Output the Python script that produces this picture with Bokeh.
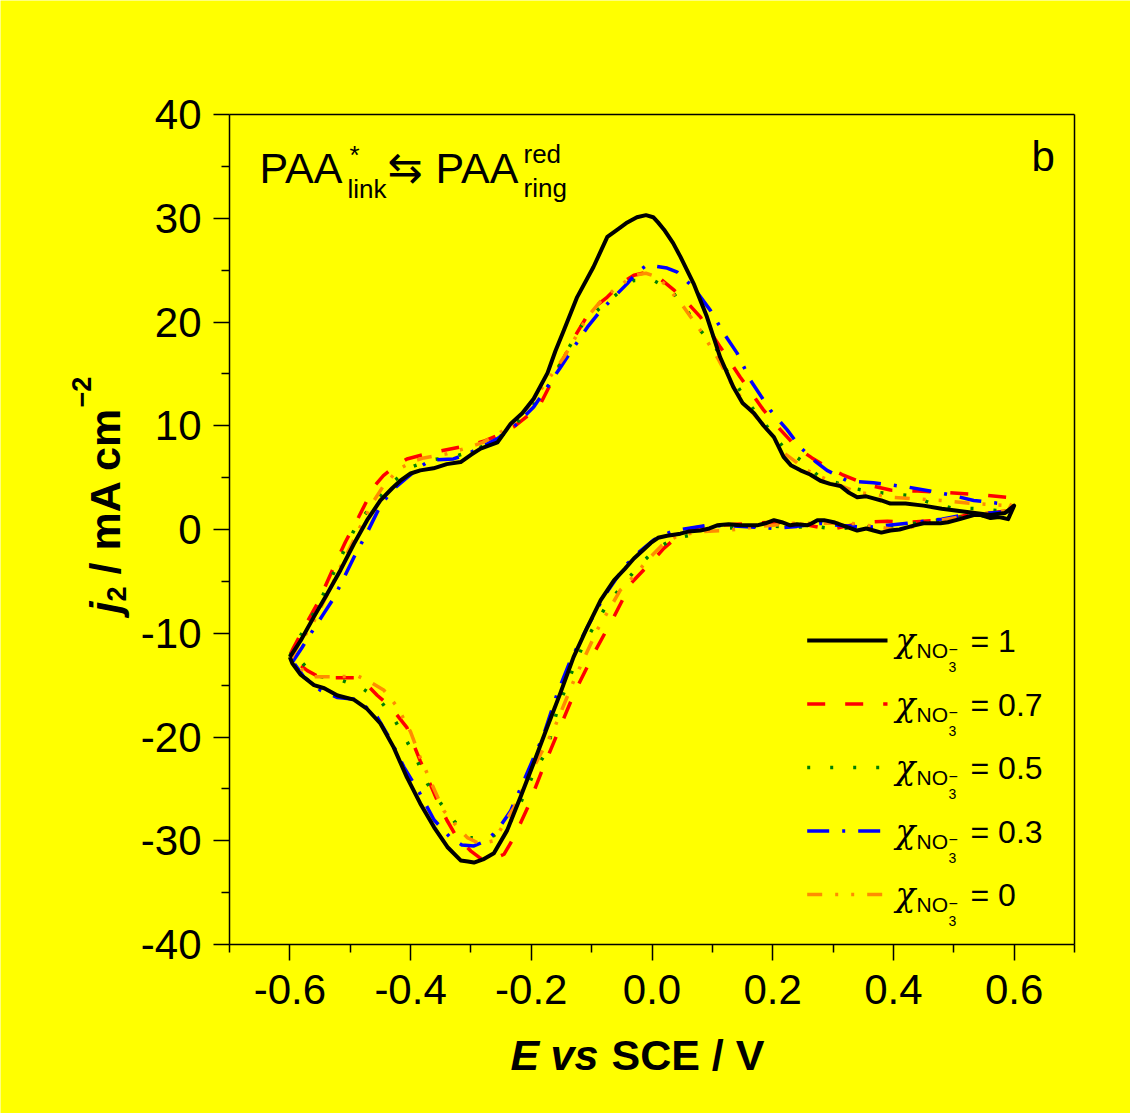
import math
from bokeh.plotting import figure
from bokeh.models import Range1d, FixedTicker, PrintfTickFormatter, Label, LinearAxis
from bokeh.embed import file_html
from bokeh.resources import INLINE

# ---------------- data (E vs SCE / V, j2 / mA cm^-2) ----------------
x_ticks = [-0.6, -0.4, -0.2, 0.0, 0.2, 0.4, 0.6]
x_minor = [-0.7, -0.5, -0.3, -0.1, 0.1, 0.3, 0.5, 0.7]
y_ticks = [-40, -30, -20, -10, 0, 10, 20, 30, 40]
y_minor = [-35, -25, -15, -5, 5, 15, 25, 35]

legend_values = ["1", "0.7", "0.5", "0.3", "0"]

E_chi1 = [-0.600, -0.582, -0.560, -0.538, -0.516, -0.494, -0.472, -0.450, -0.430, -0.417, -0.400, -0.384,
          -0.362, -0.340, -0.317, -0.300, -0.284, -0.256, -0.234, -0.215, -0.196, -0.173, -0.160, -0.146,
          -0.124, -0.097, -0.074, -0.055, -0.041, -0.025, -0.010, 0.002, 0.010, 0.020, 0.035, 0.047, 0.069,
          0.091, 0.113, 0.135, 0.150, 0.169, 0.185, 0.202, 0.218, 0.230, 0.246, 0.262, 0.279, 0.295, 0.312,
          0.325, 0.340, 0.355, 0.367, 0.380, 0.395, 0.420, 0.450, 0.480, 0.506, 0.535, 0.561, 0.585, 0.600,
          0.590, 0.575, 0.561, 0.545, 0.533, 0.510, 0.490, 0.478, 0.450, 0.435, 0.423, 0.410, 0.395, 0.380,
          0.367, 0.355, 0.340, 0.320, 0.301, 0.285, 0.274, 0.265, 0.257, 0.240, 0.229, 0.215, 0.202, 0.188,
          0.174, 0.160, 0.146, 0.127, 0.108, 0.095, 0.080, 0.060, 0.047, 0.025, 0.010, -0.002, -0.015, -0.030,
          -0.045, -0.063, -0.085, -0.107, -0.130, -0.152, -0.174, -0.196, -0.218, -0.240, -0.262, -0.280,
          -0.295, -0.305, -0.317, -0.339, -0.361, -0.384, -0.406, -0.428, -0.450, -0.472, -0.494, -0.521,
          -0.543, -0.560, -0.582, -0.596, -0.600]
J_chi1 = [-12.3, -10.7, -8.4, -6.2, -3.9, -1.4, 0.9, 2.8, 4.0, 4.7, 5.4, 5.7,
          5.9, 6.3, 6.5, 7.2, 7.8, 8.4, 10.2, 11.2, 12.6, 15.1, 17.2, 19.2,
          22.4, 25.3, 28.2, 29.0, 29.6, 30.1, 30.3, 30.1, 29.6, 28.9, 27.6, 26.3, 23.7,
          20.5, 16.6, 13.7, 12.2, 11.2, 10.0, 8.9, 7.0, 6.2, 5.7, 5.3, 4.7, 4.4, 4.2,
          3.6, 3.1, 3.2, 3.0, 2.8, 2.5, 2.5, 2.3, 2.0, 1.8, 1.6, 1.4, 1.6, 2.3,
          1.0, 1.2, 1.1, 1.4, 1.4, 1.0, 0.7, 0.6, 0.6, 0.4, 0.2, 0.0, -0.1, -0.3,
          -0.1, 0.1, -0.1, 0.3, 0.7, 0.9, 0.9, 0.6, 0.4, 0.5, 0.4, 0.7, 0.9, 0.6,
          0.4, 0.4, 0.4, 0.5, 0.4, 0.1, -0.1, -0.2, -0.4, -0.6, -0.8, -1.3, -2.0, -2.8,
          -3.8, -4.9, -6.8, -9.4, -12.3, -15.8, -19.1, -22.5, -25.8, -29.0, -31.2, -31.8,
          -32.1, -32.0, -31.9, -30.6, -28.7, -26.4, -23.9, -21.0, -18.7, -17.3, -16.4, -16.0,
          -15.3, -15.0, -14.0, -12.9, -12.3]

E_chi07 = [-0.599, -0.594, -0.575, -0.554, -0.527, -0.508, -0.486, -0.461, -0.445, -0.428, -0.406, -0.380,
           -0.356, -0.330, -0.306, -0.279, -0.255, -0.229, -0.205, -0.184, -0.157, -0.129, -0.102, -0.074,
           -0.052, -0.030, -0.008, 0.015, 0.036, 0.058, 0.080, 0.113, 0.146, 0.185, 0.213, 0.240, 0.265,
           0.290, 0.315, 0.340, 0.365, 0.395, 0.440, 0.478, 0.533, 0.570, 0.589, 0.597,
           0.590, 0.560, 0.528, 0.500, 0.478, 0.423, 0.390, 0.356, 0.320, 0.295, 0.260, 0.229, 0.200, 0.169,
           0.140, 0.113, 0.085, 0.064, 0.040, 0.020, 0.001, -0.035, -0.063, -0.096, -0.129, -0.157, -0.184,
           -0.206, -0.229, -0.245, -0.265, -0.284, -0.300, -0.323, -0.340, -0.356, -0.384, -0.406, -0.433,
           -0.455, -0.475, -0.488, -0.516, -0.549, -0.571, -0.594, -0.599]
J_chi07 = [-12.0, -11.4, -9.3, -7.1, -3.6, -1.2, 1.2, 4.1, 5.2, 6.0, 6.8, 7.2,
           7.5, 7.8, 8.1, 8.5, 9.1, 9.9, 11.0, 12.2, 15.3, 18.5, 21.1, 22.4,
           23.7, 24.5, 24.8, 24.1, 23.1, 21.9, 20.5, 17.6, 14.7, 11.5, 9.6, 7.9, 6.9,
           6.0, 5.3, 4.7, 4.2, 3.8, 3.7, 3.6, 3.4, 3.2, 3.1, 2.5,
           1.8, 1.6, 1.5, 1.1, 0.9, 0.7, 0.8, 0.7, 0.3, 0.0, 0.4, 0.6, 0.7, 0.6,
           0.5, 0.4, 0.3, 0.1, -0.8, -1.8, -3.0, -5.2, -8.4, -11.9, -15.8, -19.7, -23.5,
           -26.8, -29.7, -31.3, -31.8, -31.7, -31.0, -29.7, -28.0, -26.1, -22.3, -19.1, -17.1,
           -16.0, -14.8, -14.3, -14.3, -14.3, -13.6, -12.6, -12.0]

E_chi05 = [-0.600, -0.590, -0.575, -0.555, -0.530, -0.510, -0.488, -0.461, -0.433, -0.400, -0.367, -0.329,
           -0.295, -0.265, -0.234, -0.205, -0.173, -0.140, -0.115, -0.091, -0.058, -0.030, 0.003, 0.031,
           0.058, 0.080, 0.108, 0.124, 0.146, 0.169, 0.191, 0.218, 0.246, 0.279, 0.312, 0.340, 0.367, 0.423,
           0.460, 0.495, 0.540, 0.578, 0.594,
           0.578, 0.540, 0.495, 0.450, 0.410, 0.379, 0.340, 0.307, 0.270, 0.229, 0.190, 0.152, 0.110, 0.075,
           0.036, 0.009, -0.019, -0.052, -0.074, -0.113, -0.130, -0.157, -0.174, -0.196, -0.218, -0.234,
           -0.262, -0.280, -0.301, -0.328, -0.350, -0.372, -0.389, -0.408, -0.428, -0.450, -0.483, -0.521,
           -0.560, -0.588, -0.600]
J_chi05 = [-12.2, -11.0, -9.5, -7.5, -4.5, -2.0, 0.6, 2.5, 4.4, 6.0, 6.7, 7.0,
           7.6, 8.5, 9.6, 11.5, 13.7, 17.3, 19.8, 21.1, 22.7, 24.0, 24.0, 23.1,
           21.1, 19.2, 17.3, 15.3, 13.4, 11.5, 9.9, 7.9, 6.7, 5.0, 4.4, 3.9, 3.6, 3.3,
           2.6, 2.1, 2.0, 1.8, 2.1,
           1.4, 1.3, 1.1, 0.7, 0.4, 0.2, 0.3, 0.0, 0.3, 0.2, 0.4, 0.2, 0.1, -0.4,
           -0.9, -1.8, -3.3, -5.6, -7.2, -11.0, -13.3, -17.4, -21.3, -23.5, -26.4, -28.1,
           -29.5, -29.8, -29.7, -28.1, -26.4, -24.5, -22.3, -20.2, -18.2, -16.5, -15.2, -14.4,
           -14.1, -12.3, -12.2]

E_chi03 = [-0.596, -0.580, -0.565, -0.545, -0.527, -0.510, -0.494, -0.472, -0.450, -0.430, -0.406, -0.385,
           -0.367, -0.329, -0.305, -0.284, -0.255, -0.229, -0.196, -0.174, -0.152, -0.129, -0.107, -0.085,
           -0.063, -0.041, -0.025, -0.008, 0.014, 0.025, 0.042, 0.069, 0.097, 0.119, 0.141, 0.163, 0.196,
           0.224, 0.246, 0.270, 0.290, 0.323, 0.367, 0.423, 0.489, 0.533, 0.578, 0.589,
           0.560, 0.533, 0.480, 0.423, 0.356, 0.310, 0.279, 0.240, 0.202, 0.150, 0.091, 0.036, 0.003, -0.020,
           -0.041, -0.060, -0.080, -0.107, -0.135, -0.157, -0.179, -0.207, -0.234, -0.256, -0.275, -0.295,
           -0.315, -0.334, -0.361, -0.384, -0.411, -0.433, -0.455, -0.488, -0.521, -0.549, -0.577, -0.593,
           -0.596]
J_chi03 = [-12.8, -11.4, -10.0, -8.2, -6.6, -4.6, -2.7, -0.3, 2.3, 3.8, 5.0, 6.0,
           6.7, 6.8, 7.3, 7.9, 8.8, 9.9, 11.8, 13.7, 15.6, 17.6, 19.5, 21.1,
           22.4, 23.7, 24.8, 25.5, 25.3, 25.2, 24.8, 23.3, 21.1, 18.9, 17.0, 14.4, 11.5,
           9.6, 7.9, 6.6, 5.7, 4.7, 4.5, 4.1, 3.4, 2.8, 2.5, 1.7,
           1.6, 1.6, 1.0, 0.6, 0.2, 0.4, 0.6, 0.3, 0.1, 0.3, 0.4, -0.1, -1.0, -2.1,
           -3.3, -4.8, -6.5, -9.4, -12.6, -15.8, -19.7, -23.5, -27.1, -29.0, -30.0, -30.5,
           -30.4, -29.7, -28.0, -25.5, -22.9, -20.3, -18.1, -16.4, -16.2, -15.5, -14.2, -12.9,
           -12.8]

E_chi0 = [-0.598, -0.585, -0.565, -0.540, -0.516, -0.490, -0.466, -0.445, -0.420, -0.395, -0.378, -0.340,
          -0.310, -0.280, -0.250, -0.225, -0.206, -0.175, -0.146, -0.120, -0.107, -0.085, -0.063, -0.030,
          -0.010, 0.010, 0.025, 0.053, 0.080, 0.108, 0.135, 0.163, 0.191, 0.218, 0.257, 0.301, 0.340,
          0.400, 0.478, 0.533, 0.589, 0.597,
          0.590, 0.539, 0.478, 0.440, 0.412, 0.370, 0.329, 0.280, 0.235, 0.180, 0.124, 0.080, 0.042, 0.015,
          -0.008, -0.030, -0.052, -0.091, -0.129, -0.163, -0.196, -0.229, -0.262, -0.285, -0.306, -0.325,
          -0.345, -0.365, -0.384, -0.400, -0.422, -0.444, -0.470, -0.488, -0.520, -0.560, -0.580, -0.598]
J_chi0 = [-12.5, -11.0, -9.4, -6.5, -3.6, -0.5, 2.3, 4.2, 5.8, 6.6, 6.9, 7.3,
          7.8, 8.4, 9.4, 10.6, 11.8, 14.2, 16.6, 19.2, 20.5, 22.0, 23.1, 24.5,
          24.7, 24.3, 23.4, 21.4, 19.2, 16.6, 13.7, 11.5, 9.6, 7.4, 5.7, 4.5, 3.6,
          3.1, 2.8, 2.5, 2.3, 2.6,
          1.8, 1.5, 0.9, 0.4, -0.1, 0.3, 0.6, 0.6, 0.6, 0.3, -0.1, -0.2, -0.6, -1.6,
          -3.0, -4.5, -5.8, -9.7, -14.5, -19.3, -22.9, -26.8, -30.0, -30.3, -29.7, -28.5,
          -27.1, -24.5, -22.0, -19.5, -17.1, -15.5, -14.6, -14.1, -14.2, -14.2, -13.5, -12.5]

# ---------------- geometry ----------------
W, H = 1130, 1113
BL, BR, BT, BB = 229, 1074, 114, 944          # plot box edges in page pixels
XMIN, XMAX, YMIN, YMAX = -0.7, 0.7, -40, 40    # data limits of the plot box

def DX(px):   # page pixel -> data x
    return XMIN + (px - BL) / (BR - BL) * (XMAX - XMIN)

def DY(py):   # page pixel -> data y
    return YMAX - (py - BT) / (BB - BT) * (YMAX - YMIN)

# the frame covers the whole canvas; axes are pinned to the plot box with fixed_location
p = figure(width=W, height=H, output_backend="svg", toolbar_location=None,
           x_range=Range1d(DX(0), DX(W)), y_range=Range1d(DY(H), DY(0)),
           min_border=0)

YEL = "#FFFF00"
p.background_fill_color = YEL
p.border_fill_color = YEL
p.outline_line_color = None
p.xgrid.visible = False
p.ygrid.visible = False

xa, ya = p.xaxis[0], p.yaxis[0]
xa.fixed_location = YMIN
ya.fixed_location = XMIN
xa.bounds = (XMIN, XMAX)
ya.bounds = (YMIN, YMAX)
for ax, tk, mn, fmt in ((xa, x_ticks, x_minor, "%.1f"), (ya, y_ticks, y_minor, "%d")):
    ax.ticker = FixedTicker(ticks=tk, minor_ticks=mn)
    ax.formatter = PrintfTickFormatter(format=fmt)
    ax.axis_line_width = 1.5
    ax.major_tick_line_width = 1.5
    ax.minor_tick_line_width = 1.5
    ax.major_tick_out = 16
    ax.major_tick_in = 0
    ax.minor_tick_out = 8
    ax.minor_tick_in = 0
    ax.major_label_text_font = "Liberation Sans"
    ax.major_label_text_font_size = "42px"
    ax.major_label_text_color = "black"
    ax.axis_label = None
ya.major_label_standoff = 12
xa.major_label_standoff = 14

# top and right edges of the box (plain axes without ticks)
top_ax = LinearAxis(fixed_location=YMAX, bounds=(XMIN, XMAX), ticker=FixedTicker(ticks=[]),
                    axis_line_width=1.5, major_tick_line_color=None, minor_tick_line_color=None)
right_ax = LinearAxis(fixed_location=XMAX, bounds=(YMIN, YMAX), ticker=FixedTicker(ticks=[]),
                      axis_line_width=1.5, major_tick_line_color=None, minor_tick_line_color=None)
p.add_layout(top_ax, "above")
p.add_layout(right_ax, "right")

series = [
    (E_chi1, J_chi1, "black", None),
    (E_chi07, J_chi07, "#FF0000", "18 20"),
    (E_chi05, J_chi05, "#008000", "3 20"),
    (E_chi03, J_chi03, "#0000FF", "22 13 3 13"),
    (E_chi0, J_chi0, "#FF8C00", "15 13 3 13 3 13"),
]

for i in [1, 2, 3, 4, 0]:
    e, j, col, dash = series[i]
    kw = dict(line_color=col, line_width=4 if dash is None else 3.5, line_join="round")
    if dash:
        kw["line_dash"] = dash
    p.line(e, j, **kw)

# text helper: (px, py) is the wanted baseline start in page pixels
BASE_FIX = 0.37   # empirical baseline correction (fraction of font size)

def lab(px, py, text, size, font="Liberation Sans", style="normal", angle=0.0):
    s = float(size[:-2])
    if angle == 0.0:
        py -= BASE_FIX * s
    else:
        px -= BASE_FIX * s
    p.add_layout(Label(x=DX(px), y=DY(py), text=text, text_font=font, text_font_style=style,
                       text_font_size=size, text_baseline="alphabetic", text_align="left",
                       text_color="black", angle=angle))

# ---------------- legend (manual) ----------------
for k, (s, val) in enumerate(zip(series, legend_values)):
    B = 652.7 + 63.5 * k
    e, j, col, dash = s
    kw = dict(line_color=col, line_width=4 if dash is None else 3.5)
    if dash:
        kw["line_dash"] = dash
    ly = DY(B - 12.7)
    p.line([DX(806.7), DX(887)], [ly, ly], **kw)
    lab(895, B, "χ", "33px", font="DejaVu Serif", style="italic")
    lab(916, B + 5.3, "NO", "21px")
    lab(948, B + 19, "3", "14px")
    lab(948, B + 1.5, "−", "16px")
    lab(970, B, "= " + val, "32px")

# ---------------- annotations ----------------
lab(259, 183.3, "PAA", "43px")
lab(349, 164, "*", "26px")
lab(347, 198, "link", "26px")
lab(387, 183, "⇆", "42px", font="DejaVu Sans")
lab(435, 183.3, "PAA", "43px")
lab(523, 163.3, "red", "26px")
lab(523, 197, "ring", "26px")
lab(1031, 172, "b", "42px")

# x-axis title: E vs SCE / V
lab(510, 1070, "E", "43px", style="bold italic")
lab(550, 1070, "vs", "43px", style="bold italic")
lab(611, 1070, "SCE / V", "43px", style="bold")

# y-axis title: j2 / mA cm-2 (rotated)
A = math.pi / 2
lab(120, 613, "j", "43px", style="bold italic", angle=A)
lab(126, 601, "2", "27px", style="bold", angle=A)
lab(120, 574, "/ mA cm", "43px", style="bold", angle=A)
lab(91, 407, "−2", "27px", style="bold", angle=A)

open("out.html", "w").write(file_html(p, INLINE))
